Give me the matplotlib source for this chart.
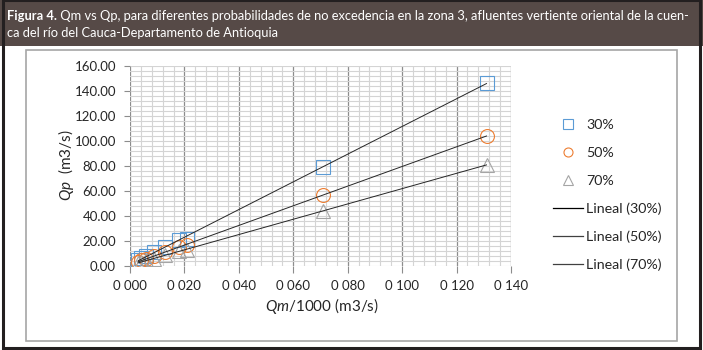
import numpy as np
import matplotlib
matplotlib.use("Agg")
import matplotlib.pyplot as plt
from matplotlib.patches import Rectangle
from matplotlib.lines import Line2D

# ---- data ----
qm = [0.003, 0.004, 0.006, 0.009, 0.013, 0.018, 0.021, 0.071, 0.131]
qp30 = [4.5, 6.5, 8.0, 11.0, 15.0, 21.0, 22.0, 79.0, 146.5]
qp50 = [3.5, 4.5, 6.0, 8.0, 11.0, 15.0, 17.0, 57.0, 104.0]
qp70 = [2.5, 3.5, 4.5, 6.0, 8.5, 12.0, 13.0, 44.0, 81.0]
series_labels = ["30%", "50%", "70%"]
trend_labels = ["Lineal (30%)", "Lineal (50%)", "Lineal (70%)"]
xticks = [0.0, 0.02, 0.04, 0.06, 0.08, 0.10, 0.12, 0.14]
xticklabels = ["0 000", "0 020", "0 040", "0 060", "0 080", "0 100", "0 120", "0 140"]
yticks = [0, 20, 40, 60, 80, 100, 120, 140, 160]
yticklabels = ["0.00", "20.00", "40.00", "60.00", "80.00", "100.00", "120.00", "140.00", "160.00"]
title_bold = "Figura 4."
title_rest = " Qm vs Qp, para diferentes probabilidades de no excedencia en la zona 3, afluentes vertiente oriental de la cuen-"
title_line2 = "ca del río del Cauca-Departamento de Antioquia"

plt.rcParams['font.family'] = ['Lato', 'DejaVu Sans']
plt.rcParams['mathtext.fontset'] = 'custom'
plt.rcParams['mathtext.it'] = 'Lato:italic'
plt.rcParams['mathtext.rm'] = 'Lato'

W, H = 703, 350
fig = plt.figure(figsize=(W / 100, H / 100), dpi=100)

def fx(px):
    return px / W

def fy(py):
    return 1 - py / H

# title bar
fig.patches.append(Rectangle((0, fy(46)), 1, 46 / H, transform=fig.transFigure,
                             facecolor="#564a47", edgecolor="none", zorder=0))
# inner chart frame
fig.patches.append(Rectangle((fx(26), fy(341)), (677 - 26) / W, (341 - 50) / H,
                             transform=fig.transFigure, facecolor="none",
                             edgecolor="#a6a6a6", linewidth=1.2, zorder=1))
# outer border
fig.patches.append(Rectangle((fx(2.5), fy(347.5)), (700 - 2.5) / W, (347.5) / H,
                             transform=fig.transFigure, facecolor="none",
                             edgecolor="#231f20", linewidth=2.2, zorder=2))

# title: fit first line to the width seen in the reference (x 7 .. 695)
tfont = ['Lato', 'DejaVu Sans']
r = fig.canvas.get_renderer()
base = 10.0
t1 = fig.text(fx(7), fy(16), title_bold, color="white", fontsize=base,
              fontweight="bold", family=tfont, va="center", ha="left")
t2 = fig.text(0, fy(16), title_rest, color="white", fontsize=base,
              family=tfont, va="center", ha="left")
w = t1.get_window_extent(r).width + t2.get_window_extent(r).width
fs = base * 688.0 / w
t1.set_fontsize(fs)
t2.set_fontsize(fs)
bb = t1.get_window_extent(r)
t2.set_x(bb.x1 / W)
fig.text(fx(7), fy(33), title_line2, color="white", fontsize=fs,
         family=tfont, va="center", ha="left")

ax = fig.add_axes([fx(130), fy(266), (511 - 130) / W, (266 - 66) / H])
ax.set_xlim(0, 0.14)
ax.set_ylim(0, 160)
ax.set_xticks(xticks)
ax.set_xticklabels(xticklabels, fontsize=9.5, color="#262626")
ax.set_yticks(yticks)
ax.set_yticklabels(yticklabels, fontsize=9.5, color="#262626")
ax.set_xticks(np.arange(0, 0.1401, 0.004), minor=True)
ax.set_yticks(np.arange(0, 160.1, 4), minor=True)
ax.grid(which="minor", color="#d4d4d4", linewidth=0.8)
ax.grid(which="major", axis="y", color="#d4d4d4", linewidth=0.8)
ax.grid(which="major", axis="x", color="#8c8c8c", linewidth=0.9)
ax.tick_params(which="minor", length=0)
ax.tick_params(which="major", axis="y", length=4, color="#8c8c8c", pad=6)
ax.tick_params(which="major", axis="x", length=5, color="#8c8c8c", pad=5)
for s in ax.spines.values():
    s.set_visible(False)
ax.set_axisbelow(True)

colors = ["#5b9bd5", "#ed7d31", "#a5a5a5"]
markers = ["s", "o", "^"]
sizes = [9.5, 10, 10]
trend_colors = ["#000000", "#404040", "#404040"]
handles = []
x = np.array(qm)
for ys, c, m, ms, lab in zip([qp30, qp50, qp70], colors, markers, sizes, series_labels):
    ax.plot(qm, ys, linestyle="none", marker=m, markersize=ms,
            markerfacecolor="none", markeredgecolor=c, markeredgewidth=0.8, zorder=3)
    handles.append(Line2D([], [], linestyle="none", marker=m, markersize=6.5,
                          markerfacecolor="none", markeredgecolor=c,
                          markeredgewidth=0.8, label=lab))
for ys, tc, lab in zip([qp30, qp50, qp70], trend_colors, trend_labels):
    k, b = np.polyfit(x, np.array(ys), 1)
    xs = np.array([x.min(), x.max()])
    ax.plot(xs, k * xs + b, color="#262626", linewidth=0.7, zorder=4)
    handles.append(Line2D([], [], color=tc, linewidth=0.9, label=lab))

fig.legend(handles=handles, loc="upper left", bbox_to_anchor=(fx(553), fy(119)),
           frameon=False, fontsize=10.3, labelspacing=1.1, handlelength=2.1,
           handletextpad=0.2, borderpad=0, borderaxespad=0, labelcolor="#262626")

fig.text(fx(66), fy(165), r"$Qp$  (m3/s)", rotation=90, fontsize=11,
         ha="center", va="center", color="#262626")
fig.text(fx(322), fy(306), r"$Qm/$1000 (m3/s)", fontsize=11,
         ha="center", va="center", color="#262626")

fig.savefig("out.png", dpi=100)
